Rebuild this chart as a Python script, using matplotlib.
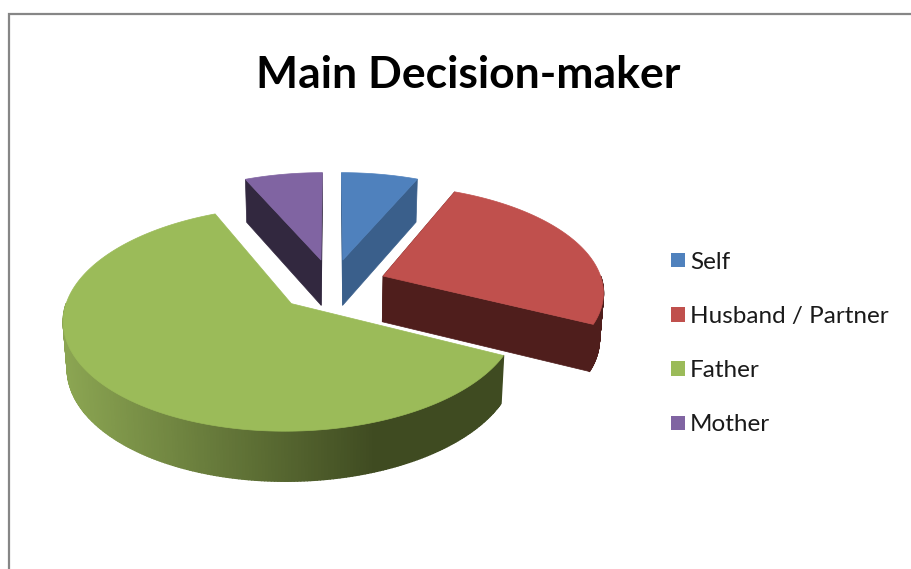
import numpy as np
from matplotlib import pyplot as plt
from matplotlib.collections import PolyCollection
from matplotlib.colors import to_rgb
from matplotlib.patches import Patch

# data
labels = ['Self', 'Husband / Partner', 'Father', 'Mother']
values = [6.5, 25.8, 61.1, 6.6]

# styles
top_colors = ['#4f81bd', '#c0504d', '#9bbb59', '#8064a2']
side_colors = ['#3a5f8b', '#4f1e1c', '#3f4b21', '#32283f']
draw_order = [0, 3, 1, 2]
explode = 0.25

# fake 3d view, in pixels
cx, cy = 332, 285
rx, ry = 220, 105.2
persp = 0.133
depth = 46


def project(u, v):
    # v > 0 is towards the viewer
    w = 1 - persp * v
    return cx + rx * u / w, cy + ry * v / w


def drop(x, y):
    # same point on the bottom of the disc
    return cx + (x - cx) * 0.985, cy + depth + (y - cy) * 1.028


def green_side(x):
    light = np.array(to_rgb('#8ba552'))
    dark = np.array(to_rgb(side_colors[2]))
    t = np.clip((x - 65) / (375 - 65), 0, 1)
    return tuple(light + (dark - light) * t)


fig = plt.figure(figsize=(9.12, 5.69), dpi=100)
ax = fig.add_axes([0, 0, 1, 1])
ax.set_xlim(0, 912)
ax.set_ylim(569, 0)
ax.axis('off')

# outer chart frame
ax.plot([9.5, 9.5, 912], [569, 13.5, 13.5], color='#868686', lw=1.6, solid_joinstyle='miter')

edges = np.cumsum([0] + values) / sum(values) * 2 * np.pi

for i in draw_order:
    a0, a1 = edges[i], edges[i + 1]
    mid = (a0 + a1) / 2
    off_u, off_v = explode * np.sin(mid), -explode * np.cos(mid)
    angles = np.linspace(a0, a1, 300)
    x, y = project(off_u + np.sin(angles), off_v - np.cos(angles))
    ax_, ay_ = project(off_u, off_v)
    bx, by = drop(x, y)
    bax, bay = drop(ax_, ay_)

    # rim, only the part that faces the viewer
    front = [j for j in range(len(x) - 1) if np.cos(angles[j]) < 0.0]
    quads = [[(x[j], y[j]), (x[j + 1], y[j + 1]), (bx[j + 1], by[j + 1]), (bx[j], by[j])]
             for j in front]
    if i == 2:
        cols = [green_side((x[j] + x[j + 1]) / 2) for j in front]
    else:
        cols = [side_colors[i]] * len(front)
    if quads:
        ax.add_collection(PolyCollection(quads, facecolors=cols, edgecolors=cols, linewidths=1.0))

    # cut faces
    if i != 2:
        for k in (0, -1):
            ax.fill([ax_, x[k], bx[k], bax], [ay_, y[k], by[k], bay],
                    color=side_colors[i], lw=0.5)

    # top
    ax.fill(np.r_[ax_, x], np.r_[ay_, y], color=top_colors[i], lw=0.5)

ax.text(468, 75, 'Main Decision-maker', ha='center', va='center',
        fontsize=32, fontweight='bold', family='Lato', color='black')

handles = [Patch(facecolor=c, edgecolor='none') for c in top_colors]
ax.legend(handles, labels, loc='center left', bbox_to_anchor=(664 / 912, 1 - 343.5 / 569),
          frameon=False, prop={'family': 'Lato', 'size': 17.5}, labelspacing=1.37,
          handlelength=0.55, handleheight=0.55, handletextpad=0.22,
          borderpad=0, borderaxespad=0.3, labelcolor='#1a1a1a')

plt.savefig('out.png', dpi=100)
